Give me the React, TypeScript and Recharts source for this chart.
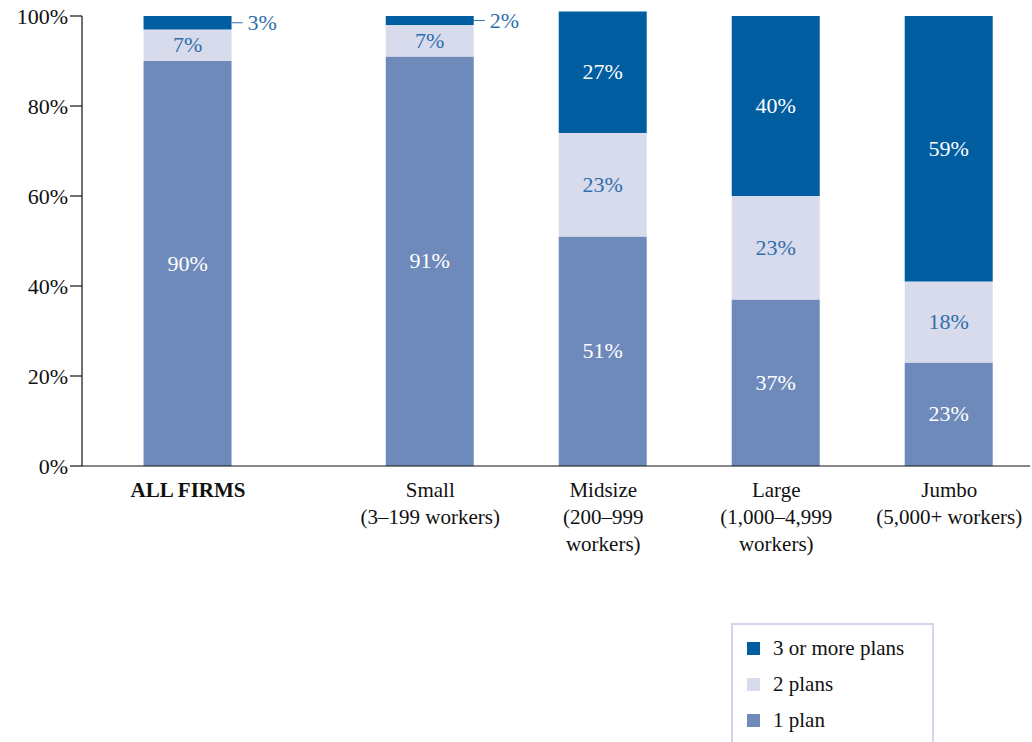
import { ComposedChart, Bar, XAxis, YAxis, LabelList, ReferenceLine } from 'recharts';

// Firm size groups (label lines) and where each bar sits along the x axis
const groupLines: string[][] = [
  ['ALL FIRMS'],
  ['Small', '(3–199 workers)'],
  ['Midsize', '(200–999', 'workers)'],
  ['Large', '(1,000–4,999', 'workers)'],
  ['Jumbo', '(5,000+ workers)'],
];
const groupSlots = [0, 1.4, 2.4, 3.4, 4.4];

// Percent of firms offering N plans
const onePlan = [90, 91, 51, 37, 23];
const twoPlans = [7, 7, 23, 23, 18];
const threePlus = [3, 2, 27, 40, 59];

const yTicks = [0, 20, 40, 60, 80, 100];

const X_MIN = -0.613;
const X_MAX = 4.867;

const C_DARK = '#005da0';
const C_LIGHT = '#d8dbeb';
const C_MID = '#6e8abb';
const C_TEXT_BLUE = '#2f6fae';
const FONT = "'Liberation Serif', 'DejaVu Serif', serif";

const data = groupSlots.map((slot, i) => ({
  slot,
  idx: i,
  one: onePlan[i],
  two: twoPlans[i],
  three: threePlus[i],
}));

const CategoryTick = ({ x, y, payload }: any) => {
  const i = groupSlots.indexOf(payload.value);
  const lines = groupLines[i] || [];
  return (
    <g transform={`translate(${x},${y})`}>
      {lines.map((ln, k) => (
        <text
          key={k}
          x={0}
          y={23 + k * 27}
          textAnchor="middle"
          style={{ fontFamily: FONT, fontSize: 21, fontWeight: i === 0 ? 'bold' : 'normal' }}
          fill="#111"
        >
          {ln}
        </text>
      ))}
    </g>
  );
};

const labelStyle = { fontFamily: FONT, fontSize: 22 };

const ThreePlusLabel = (props: any) => {
  const { x, y, width, height, value } = props;
  if (value < 5) {
    const cy = y + height / 2;
    return (
      <g>
        <line x1={x + width} y1={cy} x2={x + width + 11} y2={cy} stroke={C_TEXT_BLUE} strokeWidth={1} />
        <text x={x + width + 16} y={cy + 7} style={labelStyle} fill={C_TEXT_BLUE}>
          {value}%
        </text>
      </g>
    );
  }
  return (
    <text x={x + width / 2} y={y + height / 2 + 7} textAnchor="middle" style={labelStyle} fill="#fff">
      {value}%
    </text>
  );
};

const CenterLabel = (color: string) => (props: any) => {
  const { x, y, width, height, value } = props;
  return (
    <text x={x + width / 2} y={y + height / 2 + 7} textAnchor="middle" style={labelStyle} fill={color}>
      {value}%
    </text>
  );
};

const legendItems = [
  { label: '3 or more plans', color: C_DARK },
  { label: '2 plans', color: C_LIGHT },
  { label: '1 plan', color: C_MID },
];

export default function App() {
  return (
    <div
      style={{
        position: 'absolute',
        left: 0,
        top: 0,
        width: 1032,
        height: 742,
        background: '#fff',
        fontFamily: FONT,
        overflow: 'hidden',
      }}
    >
      <ComposedChart
        width={1032}
        height={742}
        data={data}
        margin={{ top: 11.5, right: 2, left: 0, bottom: 176 }}
        style={{ fontFamily: FONT }}
      >
        <XAxis
          type="number"
          dataKey="slot"
          domain={[X_MIN, X_MAX]}
          ticks={groupSlots}
          interval={0}
          height={100}
          tick={<CategoryTick />}
          tickLine={false}
          axisLine={{ stroke: '#111', strokeWidth: 1.2 }}
          allowDecimals
        />
        <YAxis
          type="number"
          domain={[0, 101]}
          ticks={yTicks}
          width={82}
          axisLine={false}
          tickLine={{ stroke: '#111', strokeWidth: 1.2 }}
          tickSize={12}
          tickFormatter={(v: number) => `${v}%`}
          tick={{ fontFamily: FONT, fontSize: 22, fill: '#111' }}
        />
        <ReferenceLine
          segment={[{ x: X_MIN, y: 0 }, { x: X_MIN, y: 100 }]}
          stroke="#111"
          strokeWidth={1.2}
        />
        <Bar dataKey="one" stackId="a" fill={C_MID} barSize={88} isAnimationActive={false}>
          <LabelList dataKey="one" content={CenterLabel('#fff')} />
        </Bar>
        <Bar dataKey="two" stackId="a" fill={C_LIGHT} barSize={88} isAnimationActive={false}>
          <LabelList dataKey="two" content={CenterLabel(C_TEXT_BLUE)} />
        </Bar>
        <Bar dataKey="three" stackId="a" fill={C_DARK} barSize={88} isAnimationActive={false}>
          <LabelList dataKey="three" content={ThreePlusLabel} />
        </Bar>
      </ComposedChart>
      <div
        style={{
          position: 'absolute',
          left: 731,
          top: 623,
          width: 203,
          height: 130,
          border: '2px solid #d3d6ea',
          boxSizing: 'border-box',
          fontSize: 21,
          color: '#111',
        }}
      >
        {legendItems.map((it, k) => (
          <div
            key={k}
            style={{ position: 'absolute', left: 14, top: 11 + k * 36, display: 'flex', alignItems: 'center', height: 24 }}
          >
            <span style={{ display: 'inline-block', width: 13, height: 13, background: it.color, marginRight: 13 }} />
            <span>{it.label}</span>
          </div>
        ))}
      </div>
    </div>
  );
}
